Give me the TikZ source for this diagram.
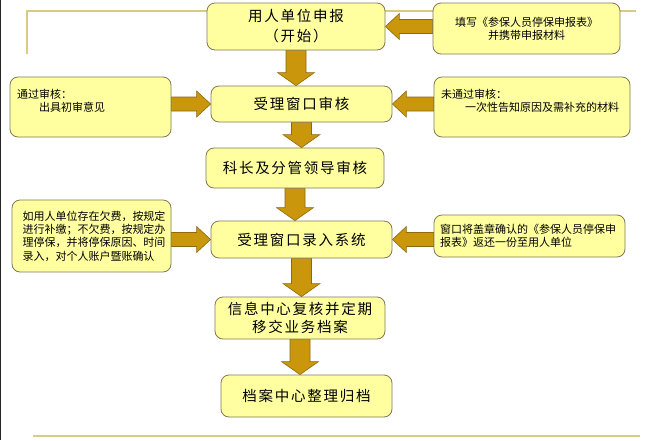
\documentclass[tikz,border=0pt]{standalone}
\usepackage{fontspec}
\newfontfamily\cjk{Noto Sans CJK SC}
\newfontfamily\cjkwide[LetterSpace=12]{Noto Sans CJK SC}
\usetikzlibrary{calc,backgrounds}
\definecolor{boxfill}{HTML}{FFFFA0}
\definecolor{boxline}{HTML}{807858}
\definecolor{arrowfill}{HTML}{C9960C}
\definecolor{arrowline}{HTML}{8C6A10}
\definecolor{ruleline}{HTML}{D8CC84}
\tikzset{
  mainbox/.style={draw=boxline, fill=boxfill, rounded corners=8pt, line width=0.8pt,
    inner sep=0pt, align=center, font=\cjkwide\fontsize{14.5}{20}\selectfont},
  notebox/.style={draw=boxline, fill=boxfill, rounded corners=8pt, line width=0.8pt,
    inner ysep=0pt, font=\cjk\fontsize{11}{13.3}\selectfont},
  fat/.style={fill=arrowfill, draw=arrowline, line width=0.6pt, line join=miter},
  rulestyle/.style={draw=ruleline, line width=2pt},
}
% vertical arrow from upper node #1 to lower node #2
\newcommand\vfat[2]{%
  \path[fat] let \p1=(#1.south), \p2=(#2.north) in
    (\x1-10pt,\y1) -- (\x1-10pt,\y2+13pt) -- (\x1-18.5pt,\y2+13pt) -- (\x1,\y2)
    -- (\x1+18.5pt,\y2+13pt) -- (\x1+10pt,\y2+13pt) -- (\x1+10pt,\y1) -- cycle;}
% left-pointing arrow from right box #1 to main box #2
\newcommand\lfat[2]{%
  \path[fat] let \p1=(#1.west), \p2=(#2.east), \p3=(#2.center) in
    (\x1,\y3+7pt) -- (\x2+14pt,\y3+7pt) -- (\x2+14pt,\y3+13pt) -- (\x2,\y3)
    -- (\x2+14pt,\y3-13pt) -- (\x2+14pt,\y3-7pt) -- (\x1,\y3-7pt) -- cycle;}
% right-pointing arrow from left box #1 to main box #2
\newcommand\rfat[2]{%
  \path[fat] let \p1=(#1.east), \p2=(#2.west), \p3=(#2.center) in
    (\x1,\y3+7pt) -- (\x2-14pt,\y3+7pt) -- (\x2-14pt,\y3+13pt) -- (\x2,\y3)
    -- (\x2-14pt,\y3-13pt) -- (\x2-14pt,\y3-7pt) -- (\x1,\y3-7pt) -- cycle;}
\begin{document}
\begin{tikzpicture}[x=1pt,y=-1pt]
\useasboundingbox (0,0) rectangle (649,440);
\begin{scope}[on background layer]
\fill[white] (0,0) rectangle (649,440);
\end{scope}

% frame lines
\coordinate (tl) at (27,54);
\coordinate (tc) at (27,11);
\coordinate (tr) at (636,11);
\draw[rulestyle] (tl) -- (tc) -- (tr);
\coordinate (bl) at (33,436);
\coordinate (br) at (640,436);
\draw[rulestyle] (bl) -- (br);
\coordinate (lt) at (0.8,0);
\coordinate (lb) at (0.8,440);
\draw[line width=1.2pt, black!85] (lt) -- (lb);

% main column
\node[mainbox, minimum width=178pt, minimum height=47pt] (b1) at (296,26.5)
  {用人单位申报\\（开始）};
\node[mainbox, minimum width=181pt, minimum height=36pt] (b2) at (301.5,104)
  {受理窗口审核};
\node[mainbox, minimum width=178pt, minimum height=40pt] (b3) at (295,168)
  {科长及分管领导审核};
\node[mainbox, minimum width=181pt, minimum height=37pt] (b4) at (301.5,239.5)
  {受理窗口录入系统};
\node[mainbox, minimum width=170pt, minimum height=42pt, font=\cjkwide\fontsize{14.5}{18}\selectfont] (b5) at (300,318)
  {信息中心复核并定期\\移交业务档案};
\node[mainbox, minimum width=171pt, minimum height=42pt] (b6) at (306.5,396)
  {档案中心整理归档};

% side boxes
\node[notebox, align=center, minimum width=187pt, minimum height=51pt,
  font=\cjk\fontsize{11}{13}\selectfont] (n1) at (526.5,28.5)
  {填写《参保人员停保申报表》\\并携带申报材料};
\node[notebox, align=left, text width=147pt, inner xsep=7pt, minimum height=60pt] (n2) at (90.5,107)
  {通过审核：\\\hspace*{22pt}出具初审意见\\\mbox{}};
\node[notebox, align=left, text width=182pt, inner xsep=7pt, minimum height=60pt] (n3) at (532,107)
  {未通过审核：\\\hspace*{24pt}一次性告知原因及需补充的材料\\\mbox{}};
\node[notebox, align=left, text width=150pt, inner xsep=4.5pt, minimum height=72pt] (n4) at (91.5,236)
  {\hspace*{6pt}如用人单位存在欠费，按规定\\\hspace*{6pt}进行补缴；不欠费，按规定办\\\hspace*{6pt}理停保，并将停保原因、时间\\\hspace*{6pt}录入，对个人账户暨账确认};
\node[notebox, align=left, text width=179pt, inner xsep=6pt, minimum height=42pt] (n5) at (529.5,236)
  {窗口将盖章确认的《参保人员停保申\\报表》返还一份至用人单位};

% arrows behind boxes
\begin{scope}[on background layer]
\vfat{b1}{b2}
\vfat{b2}{b3}
\vfat{b3}{b4}
\vfat{b4}{b5}
\vfat{b5}{b6}
\lfat{n1}{b1}
\rfat{n2}{b2}
\lfat{n3}{b2}
\rfat{n4}{b4}
\lfat{n5}{b4}
\end{scope}
\end{tikzpicture}
\end{document}
